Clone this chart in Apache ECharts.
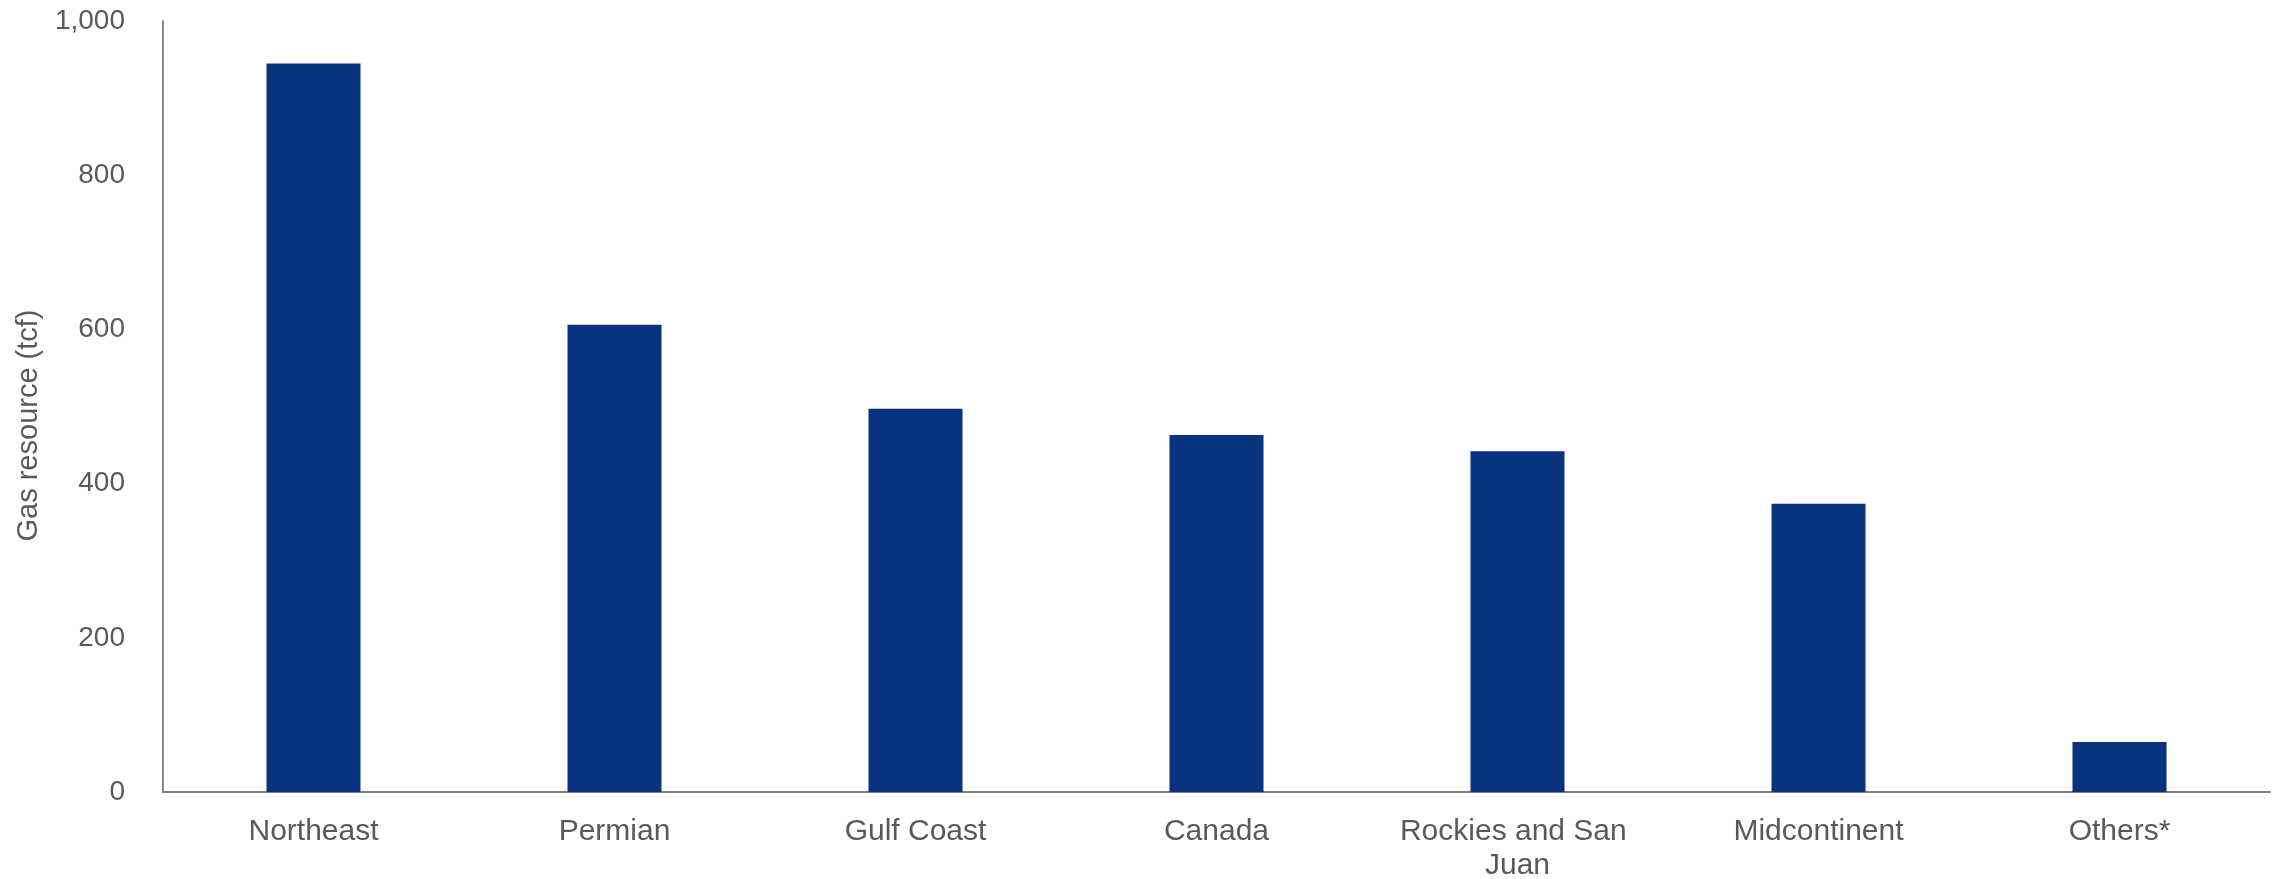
<!DOCTYPE html>
<html>
<head>
<meta charset="utf-8">
<script src="https://cdn.jsdelivr.net/npm/echarts@6/dist/echarts.min.js"></script>
<style>
html,body{margin:0;padding:0;background:#fff;}
#chart{width:2280px;height:879px;}
</style>
</head>
<body>
<div id="chart"></div>
<script>
const categories = ["Northeast", "Permian", "Gulf Coast", "Canada", "Rockies and San Juan", "Midcontinent", "Others*"];
const gasResource = [945, 606, 497, 463, 442, 374, 65];
const yTicks = { min: 0, max: 1000, interval: 200 };
const yAxisTitle = "Gas resource (tcf)";

const chart = echarts.init(document.getElementById('chart'));
chart.setOption({
  backgroundColor: '#ffffff',
  animation: false,
  textStyle: { fontFamily: 'Liberation Sans, Arial, sans-serif' },
  grid: { left: 163, right: 10, top: 21, bottom: 87, containLabel: false, outerBoundsMode: 'none' },
  xAxis: {
    type: 'category',
    data: categories,
    axisLine: { show: true, lineStyle: { color: '#7f7f7f', width: 2 } },
    axisTick: { show: false },
    axisLabel: {
      color: '#595959', fontSize: 30, margin: 23, lineHeight: 34,
      width: 290, overflow: 'break', interval: 0,
      fontFamily: 'Liberation Sans, Arial, sans-serif'
    },
    splitLine: { show: false }
  },
  yAxis: {
    type: 'value',
    min: yTicks.min, max: yTicks.max, interval: yTicks.interval,
    name: yAxisTitle,
    nameLocation: 'middle',
    nameGap: 120,
    nameTextStyle: {
      color: '#595959', fontSize: 29, padding: [0, 38, 0, 0],
      fontFamily: 'Liberation Sans, Arial, sans-serif'
    },
    axisLine: { show: true, lineStyle: { color: '#8c8c8c', width: 2 } },
    axisTick: { show: false },
    axisLabel: {
      color: '#595959', fontSize: 28, margin: 38,
      fontFamily: 'Liberation Sans, Arial, sans-serif',
      formatter: v => v.toLocaleString('en-US')
    },
    splitLine: { show: false }
  },
  series: [{
    type: 'bar',
    data: gasResource,
    barWidth: 94,
    itemStyle: { color: '#09337f' }
  }]
});
</script>
</body>
</html>
